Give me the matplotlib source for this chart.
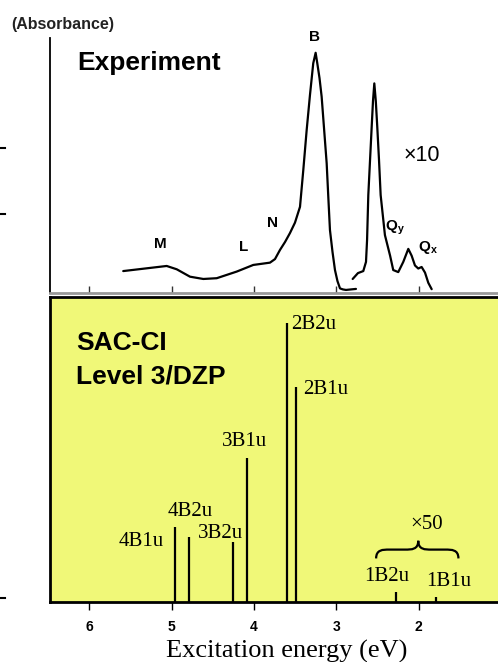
import matplotlib
matplotlib.use("Agg")
import matplotlib.pyplot as plt
from matplotlib.path import Path
from matplotlib.patches import PathPatch
from matplotlib.lines import Line2D

plt.rcParams['mathtext.fontset'] = 'custom'
plt.rcParams['mathtext.bf'] = 'Liberation Sans:bold'
plt.rcParams['mathtext.rm'] = 'Liberation Sans'

# ---------------- data ----------------
# Experimental absorbance (arbitrary units), main band (M, L, N, B)
exp_main_energy = [5.590, 5.326, 5.062, 4.940, 4.779, 4.617, 4.454, 4.211, 4.010,
                   3.807, 3.746, 3.685, 3.624, 3.564, 3.503, 3.442, 3.402, 3.361,
                   3.321, 3.281, 3.252, 3.232, 3.205, 3.179, 3.118, 3.098, 3.078,
                   3.047, 3.017, 2.987, 2.956, 2.920, 2.883, 2.762]
exp_main_abs = [8.6, 9.6, 10.6, 9.3, 6.4, 5.5, 5.8, 8.4, 11.0,
                11.9, 13.3, 16.9, 20.0, 23.5, 27.6, 33.8, 48.2, 63.9,
                77.6, 90.1, 94.2, 90.1, 84.3, 77.0, 50.9, 37.6, 24.7,
                16.1, 9.0, 4.7, 1.8, 1.4, 1.2, 1.6]
# Q band region (x10)
exp_q_energy = [2.802, 2.738, 2.673, 2.640, 2.627, 2.612, 2.571, 2.555, 2.539,
                2.521, 2.503, 2.482, 2.462, 2.410, 2.347, 2.309, 2.248, 2.187,
                2.126, 2.085, 2.045, 2.005, 1.964, 1.923, 1.883, 1.842]
exp_q_abs = [5.5, 7.8, 8.6, 12.2, 20.8, 38.4, 65.1, 75.3, 82.2,
             75.3, 65.1, 52.2, 38.4, 22.7, 14.6, 9.0, 8.2, 12.2,
             17.3, 14.6, 10.8, 9.6, 10.2, 8.0, 4.0, 1.5]

exp_labels = ["M", "L", "N", "B", r"$\mathbf{Q}_{\mathbf{y}}$", r"$\mathbf{Q}_{\mathbf{x}}$"]
exp_label_energy = [5.143, 4.131, 3.774, 3.260, 2.288, 1.883]
exp_label_abs = [19.2, 17.9, 27.3, 100.3, 25.5, 17.9]

# SAC-CI calculated states
states = ["4B1u", "4B2u", "3B2u", "3B1u", "2B2u", "2B1u", "1B2u", "1B1u"]
state_energy = [4.965, 4.795, 4.26, 4.09, 3.60, 3.495, 2.27, 1.79]
state_intensity = [0.246, 0.213, 0.195, 0.471, 0.914, 0.706, 0.033, 0.016]
# label anchor positions (energy, height) and alignment
state_label_energy = [5.091, 4.779, 4.412, 4.117, 3.555, 3.402, 2.389, 1.632]
state_label_height = [0.197, 0.295, 0.225, 0.525, 0.911, 0.695, 0.082, 0.066]
state_label_ha = ["right", "center", "center", "center", "left", "left", "center", "center"]

x_ticks = [6, 5, 4, 3, 2]

# ---------------- figure ----------------
W, H = 498, 662
fig = plt.figure(figsize=(W / 100, H / 100), dpi=100)

def fx(px):
    return px / W

def fy(py):
    return 1 - py / H

xlim = (6.486, 1.036)
left_px = 49.5

# upper (experiment)
ax1 = fig.add_axes([fx(left_px), fy(293), 1 - fx(left_px), (293 - 38) / H])
ax1.set_xlim(*xlim)
ax1.set_ylim(0, 100)
ax1.plot(exp_main_energy, exp_main_abs, color="black", lw=1.6,
         solid_joinstyle="round", solid_capstyle="round")
ax1.plot(exp_q_energy, exp_q_abs, color="black", lw=1.6,
         solid_joinstyle="round", solid_capstyle="round")
for s in ["top", "right"]:
    ax1.spines[s].set_visible(False)
ax1.spines["left"].set_linewidth(1.3)
ax1.spines["bottom"].set_color("#999999")
ax1.spines["bottom"].set_linewidth(2)
ax1.set_xticks(x_ticks)
ax1.set_xticklabels([])
ax1.tick_params(axis="x", direction="in", length=5, width=1, color="#333333")
ax1.set_yticks([])
ax1.patch.set_alpha(0)
for lab, e, a in zip(exp_labels, exp_label_energy, exp_label_abs):
    ax1.text(e, a, lab, ha="center", va="center", fontsize=11,
             family="Liberation Sans", fontweight="bold", clip_on=False)
ax1.text(1.966, 54.1, "×10", ha="center", va="center", fontsize=15.5,
         family="Liberation Sans")

# lower (SAC-CI)
ax2 = fig.add_axes([fx(left_px), fy(601.7), 1 - fx(left_px), (601.7 - 297) / H])
ax2.set_xlim(*xlim)
ax2.set_ylim(0, 1)
ax2.set_facecolor("#F0F878")
ax2.vlines(state_energy, 0, state_intensity, color="black", lw=1.6)
for lab, e, h, ha in zip(states, state_label_energy, state_label_height, state_label_ha):
    ax2.text(e, h, lab, ha=ha, va="center", fontsize=15, family="Liberation Serif")
ax2.text(1.903, 0.252, "×50", ha="center", va="center", fontsize=15,
         family="Liberation Serif")

# brace over the x50 states
bl, br, bt = 2.517, 1.517, 2.005
y_end, y_flat, y_tip = 0.142, 0.171, 0.200
r = 0.08
verts = [(bl, y_end), (bl, y_flat), (bl - r, y_flat), (bl - 2 * r, y_flat),
         (bt + 2 * r, y_flat), (bt + r, y_flat), (bt, y_flat), (bt, y_tip),
         (bt, y_flat), (bt - r, y_flat), (bt - 2 * r, y_flat),
         (br + 2 * r, y_flat), (br + r, y_flat), (br, y_flat), (br, y_end)]
codes = [Path.MOVETO, Path.CURVE4, Path.CURVE4, Path.CURVE4,
         Path.LINETO, Path.CURVE4, Path.CURVE4, Path.CURVE4,
         Path.CURVE4, Path.CURVE4, Path.CURVE4,
         Path.LINETO, Path.CURVE4, Path.CURVE4, Path.CURVE4]
ax2.add_patch(PathPatch(Path(verts, codes), fill=False, lw=1.6, color="black"))

for s in ["top", "left", "bottom"]:
    ax2.spines[s].set_linewidth(2)
ax2.spines["right"].set_visible(False)
ax2.set_yticks([])
ax2.set_xticks(x_ticks)
ax2.set_xticklabels([str(t) for t in x_ticks], family="Liberation Sans",
                    fontsize=10, fontweight="bold")
ax2.tick_params(axis="x", direction="out", length=6, width=1, pad=7)

# texts
fig.text(fx(11.5), fy(24), "(Absorbance)", ha="left", va="center", fontsize=11.5,
         family="Liberation Sans", fontweight="bold", color="#222222")
fig.text(fx(77), fy(63), "Experiment", ha="left", va="center", fontsize=19,
         family="Liberation Sans", fontweight="bold")
fig.text(fx(76), fy(343), "SAC-CI", ha="left", va="center", fontsize=19,
         family="Liberation Sans", fontweight="bold")
fig.text(fx(76), fy(376), "Level 3/DZP", ha="left", va="center", fontsize=19,
         family="Liberation Sans", fontweight="bold")
fig.text(fx(286.7), fy(651.7), "Excitation energy (eV)", ha="center", va="center",
         fontsize=19, family="Liberation Serif")

# stray tick fragments at the left edge
for py in (148, 214, 598):
    fig.add_artist(Line2D([0, fx(5)], [fy(py), fy(py)], color="black", lw=1.5))

fig.savefig("out.png", dpi=100)
